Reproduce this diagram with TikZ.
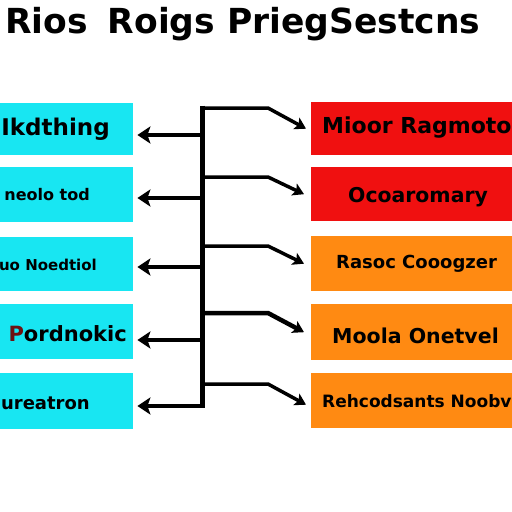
\documentclass[tikz,border=0pt]{standalone}
\usepackage{fontspec}
\setmainfont{DejaVu Sans}
\usetikzlibrary{arrows.meta}
\definecolor{boxcyan}{HTML}{18E6F2}
\definecolor{boxred}{HTML}{F01010}
\definecolor{boxorange}{HTML}{FF8A12}
\definecolor{inkred}{HTML}{6E1212}

\begin{document}
\begin{tikzpicture}[x=1pt, y=-1pt,
    lbox/.style={fill=boxcyan, anchor=north west, minimum width=133pt, inner sep=0pt},
    rbox/.style={anchor=north west, minimum width=201pt, inner sep=0pt},
    boxtext/.style={inner sep=0pt, text=black},
    trunk/.style={line width=5pt},
    larr/.style={line width=3.5pt, -{Stealth[length=13pt,width=17pt,inset=3pt]}},
    rarr/.style={line width=3.5pt, -{Stealth[length=11pt,width=13pt,inset=2.5pt]}}]
    \useasboundingbox (0,0) rectangle (512,512);
    \clip (0,0) rectangle (512,512);
    \fill[white] (0,0) rectangle (512,512);

    \node[boxtext, anchor=base west, font=\bfseries\fontsize{34.5}{36}\selectfont] (title) at (5,33)
      {Rios\hspace{8pt} Roigs PriegSestcns};

    \node[lbox, minimum height=52pt] (lbox1) at (0,103) {};
    \node[lbox, minimum height=55pt] (lbox2) at (0,167) {};
    \node[lbox, minimum height=54pt] (lbox3) at (0,237) {};
    \node[lbox, minimum height=55pt] (lbox4) at (0,304) {};
    \node[lbox, minimum height=56pt] (lbox5) at (0,373) {};

    \node[rbox, fill=boxred, minimum height=53pt] (rbox1) at (311,102) {};
    \node[rbox, fill=boxred, minimum height=54pt] (rbox2) at (311,167) {};
    \node[rbox, fill=boxorange, minimum height=55pt] (rbox3) at (311,236) {};
    \node[rbox, fill=boxorange, minimum height=56pt] (rbox4) at (311,304) {};
    \node[rbox, fill=boxorange, minimum height=55pt] (rbox5) at (311,373) {};

    \node[boxtext, anchor=base east, font=\bfseries\fontsize{23}{24}\selectfont] (ltext1) at (110,135) {Ikdthing};
    \node[boxtext, anchor=base east, font=\bfseries\fontsize{16}{17}\selectfont] (ltext2) at (90,200) {neolo tod};
    \node[boxtext, anchor=base east, font=\bfseries\fontsize{15}{16}\selectfont] (ltext3) at (97,270) {uo Noedtiol};
    \node[boxtext, anchor=base east, font=\bfseries\fontsize{21}{22}\selectfont] (ltext4) at (127,341) {\textcolor{inkred}{P}ordnokic};
    \node[boxtext, anchor=base east, font=\bfseries\fontsize{18}{19}\selectfont] (ltext5) at (90,409) {ureatron};

    \node[boxtext, anchor=base west, font=\bfseries\fontsize{22}{23}\selectfont] (rtext1) at (322,133) {Mioor Ragmoto};
    \node[boxtext, anchor=base west, font=\bfseries\fontsize{20.4}{21}\selectfont] (rtext2) at (348,202) {Ocoaromary};
    \node[boxtext, anchor=base west, font=\bfseries\fontsize{18}{19}\selectfont] (rtext3) at (336,268) {Rasoc Cooogzer};
    \node[boxtext, anchor=base west, font=\bfseries\fontsize{20.5}{21}\selectfont] (rtext4) at (332,343) {Moola Onetvel};
    \node[boxtext, anchor=base west, font=\bfseries\fontsize{17}{18}\selectfont] (rtext5) at (322,407) {Rehcodsants Noobv};

    \coordinate (k1) at (202,108);
    \coordinate (k2) at (202,177);
    \coordinate (k3) at (202,246);
    \coordinate (k4) at (202,313);
    \coordinate (k5) at (202,384);
    \coordinate (b1) at (268,108);
    \coordinate (b2) at (268,177);
    \coordinate (b3) at (268,246);
    \coordinate (b4) at (268,313);
    \coordinate (b5) at (268,384);
    \coordinate (j1) at (202,135);
    \coordinate (j2) at (202,198);
    \coordinate (j3) at (202,267);
    \coordinate (j4) at (202,340);
    \coordinate (j5) at (202,406);

    \draw[trunk] ([yshift=2.5pt]k1) -- ([yshift=-1.5pt]j5);

    \draw[larr, shorten >=4pt] (j1) -- (j1 -| lbox1.east);
    \draw[larr, shorten >=4pt] (j2) -- (j2 -| lbox2.east);
    \draw[larr, shorten >=4pt] (j3) -- (j3 -| lbox3.east);
    \draw[larr, shorten >=4pt] (j4) -- (j4 -| lbox4.east);
    \draw[larr, shorten >=4pt] (j5) -- (j5 -| lbox5.east);

    \draw[rarr] (k1) -- (b1) -- ([xshift=-5pt]rbox1.west);
    \draw[rarr] (k2) -- (b2) -- ([xshift=-7pt]rbox2.west);
    \draw[rarr] (k3) -- (b3) -- ([xshift=-7pt]rbox3.west);
    \draw[rarr, line width=4.5pt] (k4) -- (b4) -- ([xshift=-7pt]rbox4.west);
    \draw[rarr] (k5) -- (b5) -- ([xshift=-5pt, yshift=-4pt]rbox5.west);
\end{tikzpicture}
\end{document}
